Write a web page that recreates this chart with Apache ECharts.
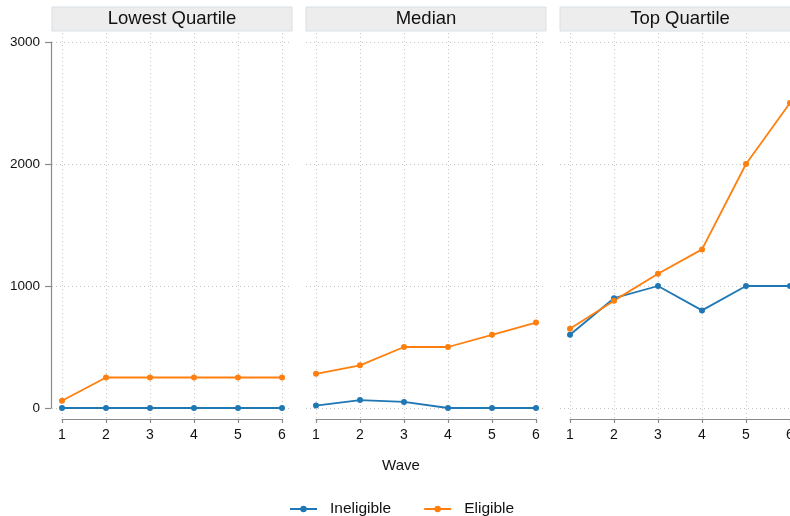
<!DOCTYPE html>
<html>
<head>
<meta charset="utf-8">
<script src="https://cdn.jsdelivr.net/npm/echarts@6/dist/echarts.min.js"></script>
<style>html,body{margin:0;padding:0;background:#fff}#chart{width:790px;height:516px}</style>
</head>
<body>
<div id="chart"></div>
<script>
// ---- data ----
const waves = [1, 2, 3, 4, 5, 6];
const panelTitles = ['Lowest Quartile', 'Median', 'Top Quartile'];
const seriesNames = ['Ineligible', 'Eligible'];
const ineligibleLowest = [0, 0, 0, 0, 0, 0];
const eligibleLowest = [60, 250, 250, 250, 250, 250];
const ineligibleMedian = [20, 65, 50, 0, 0, 0];
const eligibleMedian = [280, 350, 500, 500, 600, 700];
const ineligibleTop = [600, 900, 1000, 800, 1000, 1000];
const eligibleTop = [650, 880, 1100, 1300, 2000, 2500];
const yTicks = [0, 1000, 2000, 3000];
const xAxisTitle = 'Wave';

// ---- layout / style ----
const panelData = [
  [ineligibleLowest, eligibleLowest],
  [ineligibleMedian, eligibleMedian],
  [ineligibleTop, eligibleTop]
];
const colors = ['#1f77b4', '#ff7f0e'];
const FONT = "'Liberation Sans', Arial, Helvetica, sans-serif";
const X0 = 62, STEP = 254, PW = 220, TOP = 42, PH = 366, PAD = 10;
const yMin = 0, yMax = 3000;
const pxPerY = PH / (yMax - yMin);
const pxPerX = PW / (waves[waves.length - 1] - waves[0]);
const extTop = 31, extBottom = 418;
const axisColor = '#8a8a8a';

const grid = [], xAxis = [], yAxis = [], series = [], graphic = [];

panelTitles.forEach((title, i) => {
  const left = X0 + STEP * i;
  grid.push({ left: left, top: TOP, width: PW, height: PH, outerBoundsMode: 'none', containLabel: false });
  xAxis.push({
    type: 'value', gridIndex: i, min: waves[0], max: waves[waves.length - 1], interval: 1,
    offset: 11,
    axisLine: { show: true, onZero: false, lineStyle: { color: axisColor, width: 1.2 } },
    axisTick: { show: true, length: 4, lineStyle: { color: axisColor, width: 1.2 } },
    axisLabel: { show: true, margin: 9, fontSize: 14, color: '#111', fontFamily: FONT,
      formatter: v => String(v) },
    splitLine: { show: false }
  });
  yAxis.push({
    type: 'value', gridIndex: i, min: yMin, max: yMax, interval: 1000,
    show: i === 0,
    offset: 11,
    axisLine: { show: true, onZero: false, lineStyle: { color: axisColor, width: 1.2 } },
    axisTick: { show: true, length: 6, lineStyle: { color: axisColor, width: 1.2 } },
    axisLabel: { show: true, margin: 11, fontSize: 13.5, color: '#111', fontFamily: FONT,
      formatter: v => String(v) },
    splitLine: { show: false }
  });
  panelData[i].forEach((vals, k) => {
    series.push({
      name: seriesNames[k], type: 'line', xAxisIndex: i, yAxisIndex: i,
      data: waves.map((w, j) => [w, vals[j]]),
      symbol: 'circle', symbolSize: 6, showSymbol: true,
      itemStyle: { color: colors[k] },
      lineStyle: { color: colors[k], width: 1.8 },
      z: 5, clip: false
    });
  });
  graphic.push({
    type: 'rect', shape: { x: left - PAD, y: 7, width: PW + 2 * PAD, height: 24 },
    style: { fill: '#ededed', stroke: '#d9e0e6', lineWidth: 1 }, z: 1
  });
  graphic.push({
    type: 'text', x: left + PW / 2, y: 19,
    style: { text: title, fontSize: 18.5, fontFamily: FONT, fill: '#111', align: 'center', verticalAlign: 'middle' },
    z: 2
  });
});

panelTitles.forEach((title, i) => {
  const left = X0 + STEP * i;
  const gi = 3 + i;
  grid.push({ left: left - PAD, top: extTop, width: PW + 2 * PAD, height: extBottom - extTop,
    outerBoundsMode: 'none', containLabel: false });
  xAxis.push({ type: 'value', gridIndex: gi, show: false,
    min: waves[0] - PAD / pxPerX, max: waves[waves.length - 1] + PAD / pxPerX });
  yAxis.push({ type: 'value', gridIndex: gi, show: false,
    min: yMin - (extBottom - (TOP + PH)) / pxPerY, max: yMax + (TOP - extTop) / pxPerY });
  series.push({
    type: 'line', xAxisIndex: gi, yAxisIndex: gi, data: [[waves[0], yMin]],
    showSymbol: false, symbol: 'none', lineStyle: { opacity: 0 }, silent: true, z: 1,
    markLine: {
      silent: true, symbol: ['none', 'none'], label: { show: false },
      lineStyle: { type: [1, 3], color: '#c4c4c4', width: 1 },
      emphasis: { disabled: true },
      data: waves.map(w => ({ xAxis: w })).concat(yTicks.map(v => ({ yAxis: v })))
    }
  });
});

graphic.push({
  type: 'text', x: 401, y: 466,
  style: { text: xAxisTitle, fontSize: 15, fontFamily: FONT, fill: '#111', align: 'center', verticalAlign: 'middle' }
});

const chart = echarts.init(document.getElementById('chart'), null, { renderer: 'canvas' });
chart.setOption({
  animation: false,
  backgroundColor: '#ffffff',
  grid: grid, xAxis: xAxis, yAxis: yAxis, series: series, graphic: graphic,
  legend: {
    data: seriesNames, left: 284, top: 496, itemWidth: 27, itemHeight: 8, itemGap: 32,
    textStyle: { fontSize: 15.5, fontFamily: FONT, color: '#111', padding: [0, 0, 0, 8] }
  }
});
</script>
</body>
</html>
